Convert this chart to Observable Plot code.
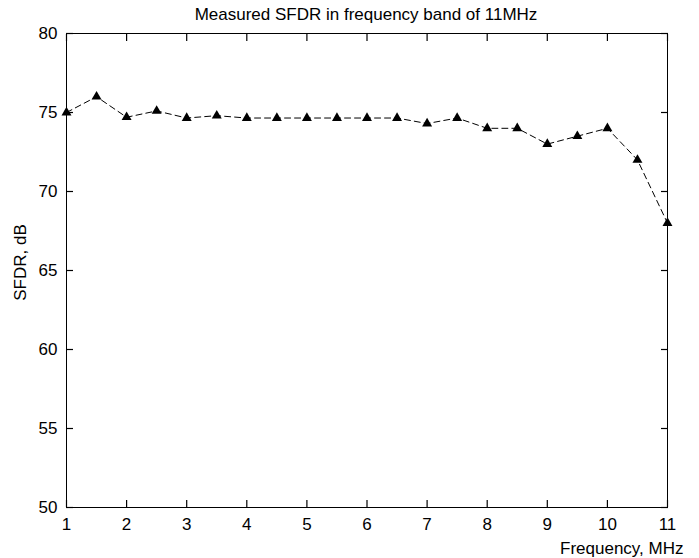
<!DOCTYPE html>
<html>
<head>
<meta charset="utf-8">
<script src="https://cdn.jsdelivr.net/npm/d3@7"></script>
<script src="https://cdn.jsdelivr.net/npm/@observablehq/plot@0.6"></script>
<style>
  body { margin: 0; background: #fff; }
  #wrap { position: relative; width: 699px; height: 558px; }
  #title { position: absolute; left: 0; top: 5px; width: 699px; box-sizing: border-box; padding-left: 33px;
           text-align: center; font: 17px "Liberation Sans", Arial, sans-serif; line-height: 20px; color: #000; }
</style>
</head>
<body>
<div id="wrap">
<div id="chart"></div>
<div id="title">Measured SFDR in frequency band of 11MHz</div>
</div>
<script>
const freq = [1, 1.5, 2, 2.5, 3, 3.5, 4, 4.5, 5, 5.5, 6, 6.5, 7, 7.5, 8, 8.5, 9, 9.5, 10, 10.5, 11];
const sfdr = [75, 76, 74.7, 75.1, 74.65, 74.8, 74.65, 74.65, 74.65, 74.65, 74.65, 74.65, 74.3, 74.65, 74, 74, 73, 73.5, 74, 72, 68];
const xTicks = [1, 2, 3, 4, 5, 6, 7, 8, 9, 10, 11];
const yTicks = [50, 55, 60, 65, 70, 75, 80];
const xLabel = "Frequency, MHz";
const yLabel = "SFDR, dB";

const data = freq.map((f, i) => ({f, v: sfdr[i]}));

const tk = 7;
const noText = () => "";
const tickStyle = {tickFormat: noText, label: null, stroke: "#000", strokeWidth: 1.2};

const chart = Plot.plot({
  width: 699,
  height: 558,
  marginLeft: 66,
  marginRight: 32,
  marginTop: 33,
  marginBottom: 51,
  style: {fontSize: "17px", fontFamily: "'Liberation Sans', Arial, sans-serif", color: "#000", background: "#fff"},
  x: {domain: [1, 11]},
  y: {domain: [50, 80]},
  marks: [
    Plot.frame({stroke: "#000", strokeWidth: 1}),
    Plot.axisX({anchor: "bottom", ticks: xTicks, tickSize: 0, tickPadding: 10, label: null}),
    Plot.axisY({anchor: "left", ticks: yTicks, tickSize: 0, tickPadding: 9, label: null}),
    Plot.axisX({anchor: "bottom", ticks: xTicks, tickSize: tk, dy: -tk, ...tickStyle}),
    Plot.axisX({anchor: "top", ticks: xTicks, tickSize: tk, dy: tk, ...tickStyle}),
    Plot.axisY({anchor: "left", ticks: yTicks, tickSize: tk, dx: tk, ...tickStyle}),
    Plot.axisY({anchor: "right", ticks: yTicks, tickSize: tk, dx: -tk, ...tickStyle}),
    Plot.line(data, {x: "f", y: "v", stroke: "#000", strokeWidth: 1, strokeDasharray: "6,4"}),
    Plot.dot(data, {x: "f", y: "v", symbol: "triangle", fill: "#000", stroke: "none", r: 3.7}),
    Plot.text([xLabel], {frameAnchor: "bottom-right", textAnchor: "end", lineAnchor: "bottom", dx: 16, dy: 46, fill: "#000"}),
    Plot.text([yLabel], {frameAnchor: "left", rotate: -90, textAnchor: "middle", lineAnchor: "middle", dx: -46, dy: -8, fill: "#000"})
  ]
});
document.getElementById("chart").appendChild(chart);
</script>
</body>
</html>
